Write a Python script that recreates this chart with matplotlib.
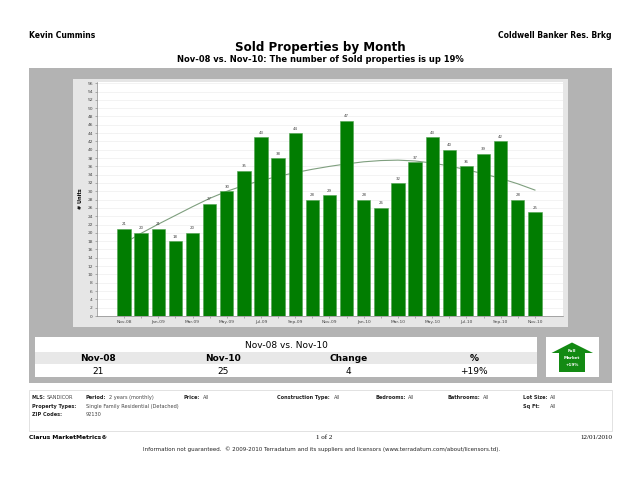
"""
Sold Properties by Month: monthly sold counts, Nov-08 to Nov-10, with a trend curve
and the Clarus MarketMetrics page furniture (header, summary table, filters, footer).
"""

import matplotlib
matplotlib.use("Agg")
import matplotlib.pyplot as plt
from matplotlib.patches import Rectangle, Polygon

plt.rcParams["font.family"] = ["DejaVu Sans"]

MONTHS = ["Nov-08", "Dec-08", "Jan-09", "Feb-09", "Mar-09", "Apr-09", "May-09", "Jun-09",
          "Jul-09", "Aug-09", "Sep-09", "Oct-09", "Nov-09", "Dec-09", "Jan-10", "Feb-10",
          "Mar-10", "Apr-10", "May-10", "Jun-10", "Jul-10", "Aug-10", "Sep-10", "Oct-10",
          "Nov-10"]
SOLD = [21, 20, 21, 18, 20, 27, 30, 35, 43, 38, 44, 28, 29, 47, 28, 26, 32, 37, 43, 40,
        36, 39, 42, 28, 25]
TREND = [17.5, 19.9, 22.1, 24.2, 26.3, 28.3, 30.0, 31.4, 32.6, 33.6, 34.5, 35.3, 36.0,
         36.6, 37.1, 37.4, 37.5, 37.3, 36.8, 36.1, 35.2, 34.2, 33.1, 31.8, 30.3]
Y_TICKS = list(range(0, 57, 2))

TABLE_HEADERS = ["Nov-08", "Nov-10", "Change", "%"]
TABLE_VALUES = ["21", "25", "4", "+19%"]

BAR_GREEN = "#017d01"
PANEL_GREY = "#b3b3b3"
FRAME_GREY = "#e6e6e6"


def main() -> None:
    fig = plt.figure(figsize=(6.4, 4.86), dpi=100)

    # page furniture lives on a pixel-coordinate axes covering the whole figure
    bg = fig.add_axes([0, 0, 1, 1])
    bg.set_xlim(0, 640)
    bg.set_ylim(486, 0)
    bg.axis("off")

    bg.text(29, 35, "Kevin Cummins", fontsize=5.5, fontweight="bold", va="center")
    bg.text(612, 35, "Coldwell Banker Res. Brkg", fontsize=5.5, fontweight="bold",
            va="center", ha="right")
    bg.text(320, 47, "Sold Properties by Month", fontsize=8.6, fontweight="bold",
            ha="center", va="center")
    bg.text(320, 59, "Nov-08 vs. Nov-10: The number of Sold properties is up 19%",
            fontsize=6, fontweight="bold", ha="center", va="center")

    bg.add_patch(Rectangle((29, 68), 583, 315, color=PANEL_GREY, lw=0))
    bg.add_patch(Rectangle((73, 79), 495, 248, color=FRAME_GREY, lw=0))

    # summary table
    bg.add_patch(Rectangle((35, 337), 502, 40, color="white", lw=0))
    bg.add_patch(Rectangle((35, 352), 502, 12, color="#e8e8e8", lw=0))
    bg.text(286, 345.5, "Nov-08 vs. Nov-10", fontsize=6.5, ha="center", va="center")
    col_w = 502 / len(TABLE_HEADERS)
    for i, (head, val) in enumerate(zip(TABLE_HEADERS, TABLE_VALUES)):
        cx = 35 + col_w * (i + 0.5)
        bg.text(cx, 358, head, fontsize=6.5, fontweight="bold", ha="center", va="center")
        bg.text(cx, 371, val, fontsize=6.5, ha="center", va="center")

    # full-market arrow badge
    bg.add_patch(Rectangle((546, 337), 53, 40, color="white", lw=0))
    arrow = [(551.5, 353), (572, 342.5), (593, 353), (585, 353), (585, 372),
             (559, 372), (559, 353)]
    bg.add_patch(Polygon(arrow, closed=True, color="#138a13", lw=0))
    for y, line in zip((351, 358, 365), ("Full", "Market", "+19%")):
        bg.text(572, y, line, fontsize=3, fontweight="bold", color="white",
                ha="center", va="center")

    # filter box
    bg.add_patch(Rectangle((29, 390), 583, 41, facecolor="white", edgecolor="#dddddd", lw=0.6))
    info = [
        (32, 397, "MLS:", True), (47, 397, "SANDICOR", False),
        (86, 397, "Period:", True), (109, 397, "2 years (monthly)", False),
        (183, 397, "Price:", True), (203, 397, "All", False),
        (277, 397, "Construction Type:", True), (334, 397, "All", False),
        (375, 397, "Bedrooms:", True), (408, 397, "All", False),
        (448, 397, "Bathrooms:", True), (483, 397, "All", False),
        (523, 397, "Lot Size:", True), (550, 397, "All", False),
        (523, 406, "Sq Ft:", True), (550, 406, "All", False),
        (32, 406, "Property Types:", True), (86, 406, "Single Family Residential (Detached)", False),
        (32, 414.5, "ZIP Codes:", True), (86, 414.5, "92130", False),
    ]
    for x, y, txt, bold in info:
        bg.text(x, y, txt, fontsize=3.6, fontweight="bold" if bold else "normal",
                color="#222222" if bold else "#444444", va="center")

    # footer
    bg.text(29, 437.5, "Clarus MarketMetrics\u00ae", fontsize=4.3, fontweight="bold", va="center")
    bg.text(324, 437.5, "1 of 2", fontsize=5, family="Liberation Serif", ha="center", va="center")
    bg.text(612, 437.5, "12/01/2010", fontsize=5, family="Liberation Serif", ha="right",
            va="center")
    bg.text(322, 449.5, "Information not guaranteed.  \u00a9 2009-2010 Terradatum and its suppliers "
            "and licensors (www.terradatum.com/about/licensors.td).", fontsize=4.0,
            ha="center", va="center", color="#222222")

    # the chart itself
    ax = fig.add_axes([97 / 640, 1 - 316 / 486, 466 / 640, 234 / 486])
    x = list(range(len(MONTHS)))
    ax.plot(x, TREND, color="#7f9f7f", lw=0.8, zorder=2)
    bars = ax.bar(x, SOLD, width=0.78, color=BAR_GREEN, edgecolor="#4fa34f", lw=0.4, zorder=3)
    for bar, val in zip(bars, SOLD):
        ax.text(bar.get_x() + bar.get_width() / 2, val + 0.6, str(val), fontsize=2.8,
                color="#444444", ha="center", va="bottom", zorder=4)

    ax.set_xlim(-1.58, 25.64)
    ax.set_ylim(0, 56.3)
    ax.set_yticks(Y_TICKS)
    ax.set_yticklabels([str(t) for t in Y_TICKS], fontsize=3.2, color="#444444")
    ax.set_xticks(x[::2])
    ax.set_xticklabels(MONTHS[::2], fontsize=3.2, color="#444444")
    ax.set_xticks(x, minor=True)
    ax.tick_params(axis="both", which="both", length=1.5, width=0.4, pad=1.5, colors="#777777")
    ax.tick_params(axis="both", labelcolor="#444444")
    ax.set_ylabel("# Units", fontsize=3.6, fontweight="bold", labelpad=3)
    ax.grid(axis="y", color="#eeeeee", lw=0.5, zorder=0)
    ax.set_axisbelow(True)
    for side in ("top", "right"):
        ax.spines[side].set_visible(False)
    for side in ("left", "bottom"):
        ax.spines[side].set_color("#888888")
        ax.spines[side].set_linewidth(0.5)

    fig.savefig("out.png", dpi=100)


if __name__ == "__main__":
    main()
